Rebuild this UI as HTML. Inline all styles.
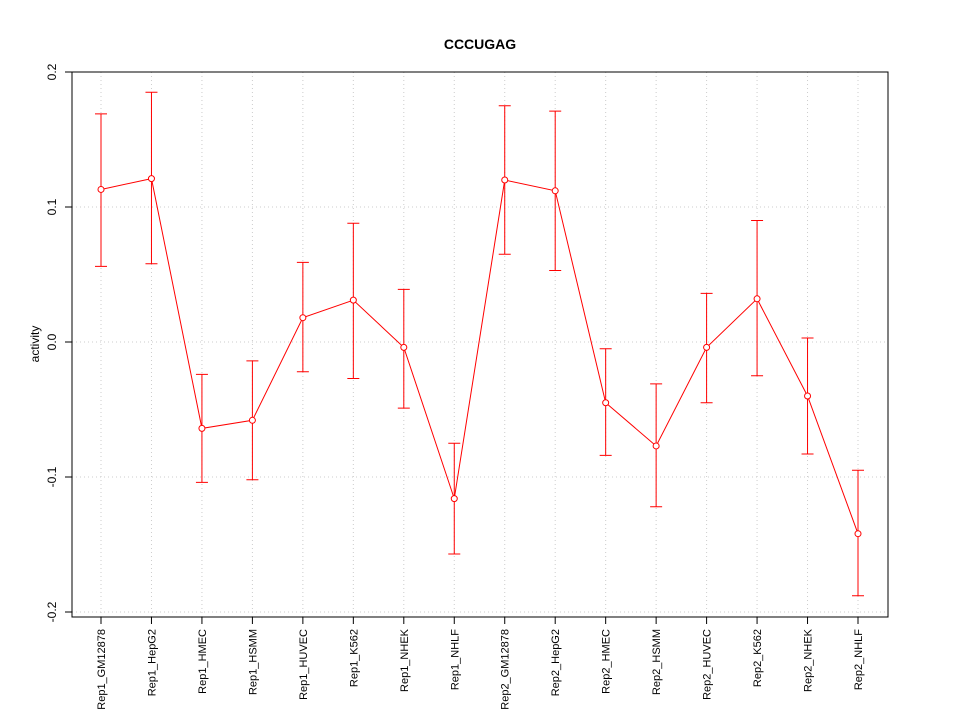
<!DOCTYPE html>
<html><head><meta charset="utf-8"><style>
body{margin:0;background:#fff;font-family:"Liberation Sans",sans-serif;}
</style></head><body>
<svg id="chart" width="960" height="720" xmlns="http://www.w3.org/2000/svg">
<rect width="960" height="720" fill="#fff"/>
<text x="480" y="49" text-anchor="middle" font-weight="bold" font-size="14">CCCUGAG</text>
<text x="0" y="0" transform="translate(39,344) rotate(-90)" text-anchor="middle" font-size="12">activity</text>
<g id="grid"></g><g id="axes"></g><g id="marks"></g>
<rect x="72" y="72" width="816" height="545" fill="none" stroke="#000"/>
</svg>
<script>
const categories=["Rep1_GM12878","Rep1_HepG2","Rep1_HMEC","Rep1_HSMM","Rep1_HUVEC","Rep1_K562","Rep1_NHEK","Rep1_NHLF","Rep2_GM12878","Rep2_HepG2","Rep2_HMEC","Rep2_HSMM","Rep2_HUVEC","Rep2_K562","Rep2_NHEK","Rep2_NHLF"];
const values=[0.113,0.121,-0.064,-0.058,0.018,0.031,-0.004,-0.116,0.120,0.112,-0.045,-0.077,-0.004,0.032,-0.040,-0.142];
const upper=[0.169,0.185,-0.024,-0.014,0.059,0.088,0.039,-0.075,0.175,0.171,-0.005,-0.031,0.036,0.090,0.003,-0.095];
const lower=[0.056,0.058,-0.104,-0.102,-0.022,-0.027,-0.049,-0.157,0.065,0.053,-0.084,-0.122,-0.045,-0.025,-0.083,-0.188];
const yTicks=[-0.2,-0.1,0.0,0.1,0.2];
const yTickLabels=["-0.2","-0.1","0.0","0.1","0.2"];
const NS="http://www.w3.org/2000/svg";
const xS=i=>101+i*(858-101)/(categories.length-1);
const yS=v=>342-v*1350;
function mk(tag,attrs,parent){const e=document.createElementNS(NS,tag);for(const k in attrs)e.setAttribute(k,attrs[k]);document.getElementById(parent).appendChild(e);return e;}
yTicks.forEach((t,i)=>{
 const g=mk("line",{x1:72,x2:888,y1:yS(t),y2:yS(t),stroke:"#ccc","stroke-dasharray":"1,3"},"grid");
 
 
 const tk=mk("line",{x1:65,x2:72,y1:yS(t),y2:yS(t),stroke:"#000"},"axes");
 
 
 const lb=mk("text",{transform:`translate(56,${yS(t)}) rotate(-90)`,"text-anchor":"middle","font-size":"12"},"axes");
 lb.textContent=yTickLabels[i];
 
 
});
categories.forEach((c,i)=>{
 const x=xS(i);
 const g=mk("line",{x1:x,x2:x,y1:72,y2:617,stroke:"#ccc","stroke-dasharray":"1,3"},"grid");
 
 
 const tk=mk("line",{x1:x,x2:x,y1:617,y2:624,stroke:"#000"},"axes");
 
 
 const lb=mk("text",{transform:`translate(${x+4},629) rotate(-90)`,"text-anchor":"end","font-size":"11"},"axes");
 lb.textContent=c;
 
 
 const eb=mk("path",{d:`M${x-6},${yS(upper[i])}H${x+6}M${x},${yS(upper[i])}V${yS(lower[i])}M${x-6},${yS(lower[i])}H${x+6}`,stroke:"#f00",fill:"none"},"marks");
 
 
});
const line=mk("polyline",{points:values.map((v,i)=>`${xS(i)},${yS(v)}`).join(" "),stroke:"#f00",fill:"none"},"marks");


values.forEach((v,i)=>{
 const p=mk("circle",{cx:xS(i),cy:yS(v),r:3,stroke:"#f00",fill:"#fff"},"marks");
 
 
});
</script>
</body></html>
